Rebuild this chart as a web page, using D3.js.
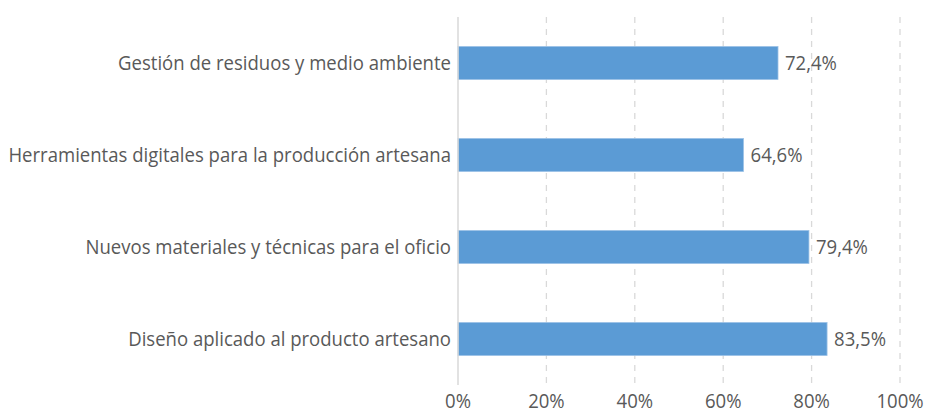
<!DOCTYPE html>
<html>
<head>
<meta charset="utf-8">
<script src="https://cdn.jsdelivr.net/npm/d3@7"></script>
<style>
  body { margin: 0; background: #fff; }
  text { font-family: "Open Sans", sans-serif; fill: #595959; }
</style>
</head>
<body>
<div id="chart"></div>
<script>
var categories = [
  "Gestión de residuos y medio ambiente",
  "Herramientas digitales para la producción artesana",
  "Nuevos materiales y técnicas para el oficio",
  "Diseño aplicado al producto artesano"
];
var values = [72.4, 64.6, 79.4, 83.5];
var ticks = [0, 20, 40, 60, 80, 100];

var width = 926, height = 414;
var fontSize = 19.5;

var svg = d3.select("#chart").append("svg")
  .attr("width", width)
  .attr("height", height);

var x = d3.scaleLinear()
  .domain([0, 100])
  .range([458, 900]);

var y = d3.scaleBand()
  .domain(categories)
  .range([17, 385])
  .paddingInner(0.64)
  .paddingOuter(0.32);

// Calibri-like look: squeeze Open Sans so the longest label fits like the original
var probe = svg.append("text").style("font-size", fontSize + "px")
  .text("Herramientas digitales para la producción artesana");
var sx = 443 / probe.node().getComputedTextLength();
probe.remove();

function label(px, py, anchor, str) {
  svg.append("g")
    .attr("transform", "translate(" + px + "," + py + ") scale(" + sx + ",1)")
    .append("text")
    .attr("text-anchor", anchor)
    .attr("dy", "0.35em")
    .style("font-size", fontSize + "px")
    .text(str);
}

// gridlines
svg.selectAll(".grid")
  .data(ticks.filter(function (d) { return d > 0; }))
  .enter().append("line")
  .attr("class", "grid")
  .attr("x1", function (d) { return x(d); })
  .attr("x2", function (d) { return x(d); })
  .attr("y1", 17)
  .attr("y2", 385)
  .attr("stroke", "#d9d9d9")
  .attr("stroke-width", 1.3)
  .attr("stroke-dasharray", "6,6");

// tick labels
ticks.forEach(function (d) {
  label(x(d), 401, "middle", d + "%");
});

// bars
svg.selectAll(".bar")
  .data(values)
  .enter().append("rect")
  .attr("class", "bar")
  .attr("x", x(0))
  .attr("y", function (d, i) { return y(categories[i]); })
  .attr("width", function (d) { return x(d) - x(0); })
  .attr("height", y.bandwidth())
  .attr("fill", "#5b9bd5")
  .attr("stroke", "#9dc3e6")
  .attr("stroke-width", 0.8);

// axis line
svg.append("line")
  .attr("x1", x(0))
  .attr("x2", x(0))
  .attr("y1", 17)
  .attr("y2", 385)
  .attr("stroke", "#d9d9d9")
  .attr("stroke-width", 1.5);

// category labels
categories.forEach(function (c) {
  label(x(0) - 7, y(c) + y.bandwidth() / 2, "end", c);
});

// value labels
values.forEach(function (v, i) {
  label(x(v) + 7, y(categories[i]) + y.bandwidth() / 2, "start",
    d3.format(".1f")(v).replace(".", ",") + "%");
});
</script>
</body>
</html>
